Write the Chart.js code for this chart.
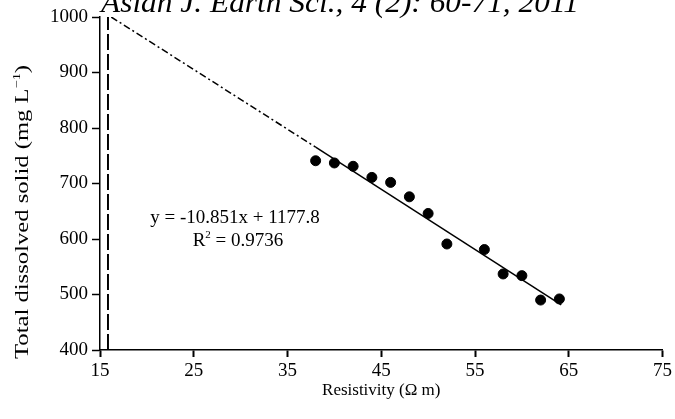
<!DOCTYPE html>
<html>
<head>
<meta charset="utf-8">
<script src="https://cdn.jsdelivr.net/npm/chart.js@4.4.1/dist/chart.umd.min.js"></script>
<style>
  html, body { margin: 0; padding: 0; background: #fff; }
  #wrap { width: 675px; height: 419px; }
</style>
</head>
<body>
<div id="wrap"><canvas id="c"></canvas></div>
<script>
const resistivity = [38, 40, 42, 44, 46, 48, 50, 52, 56, 58, 60, 62, 64];
const tds = [741, 737, 731, 711, 702, 676, 646, 591, 581, 537, 534, 490, 492];
// fitted line y = -10.851x + 1177.8, solid over the data, dash-dot backwards
const fitX = [38, 64.2];
const fitY = [765.5, 481.2];
const forecastX = [16.2, 38];
const forecastY = [1000, 765.5];
const markerX = [15.85, 15.85];
const markerY = [400, 1000];
const xTicks = [15, 25, 35, 45, 55, 65, 75];
const yTicks = [400, 500, 600, 700, 800, 900, 1000];

const SERIF = '"Liberation Serif", "Times New Roman", serif';
const pts = (xs, ys) => xs.map((x, i) => ({ x, y: ys[i] }));

// draws a run of [text, size, raise] pieces, stretched along the run to a given length
function drawRun(ctx, pieces, cx, cy, length, style) {
  const f = (size) => (style ? style + " " : "") + size + "px " + SERIF;
  let w = 0;
  pieces.forEach(([t, size]) => { ctx.font = f(size); w += ctx.measureText(t).width; });
  const k = length ? length / w : 1;
  ctx.save();
  ctx.translate(cx, cy);
  ctx.scale(k, 1);
  let x = -w / 2;
  ctx.textAlign = "left";
  pieces.forEach(([t, size, raise]) => {
    ctx.font = f(size);
    ctx.fillText(t, x, -(raise || 0));
    x += ctx.measureText(t).width;
  });
  ctx.restore();
}

const texts = {
  id: "texts",
  afterDraw(chart) {
    const ctx = chart.ctx, sx = chart.scales.x, sy = chart.scales.y;
    ctx.save();
    ctx.fillStyle = "#000";
    ctx.textBaseline = "alphabetic";

    // journal header, cut off by the top edge
    drawRun(ctx, [["Asian J. Earth Sci., 4 (2): 60-71, 2011", 30]], 101 + 239, 12, 478, "italic");

    // equation and R²
    const ex = sx.getPixelForValue(29.4);
    drawRun(ctx, [["y = -10.851x + 1177.8", 19]], ex, sy.getPixelForValue(628));
    drawRun(ctx, [["R", 19], ["2", 11, 8], [" = 0.9736", 19]], ex + 3, sy.getPixelForValue(588));

    // y axis title with superscript, rotated
    ctx.translate(28, 212);
    ctx.rotate(-Math.PI / 2);
    drawRun(ctx, [["Total dissolved solid (mg L", 19], ["\u22121", 11, 8], [")", 19]], 0, 0, 294);
    ctx.restore();
  }
};

new Chart(document.getElementById("c"), {
  type: "scatter",
  data: {
    datasets: [
      { data: pts(resistivity, tds), backgroundColor: "#000", borderColor: "#000",
        pointRadius: 5, pointHoverRadius: 5, order: 0 },
      { data: pts(fitX, fitY), showLine: true, borderColor: "#000", borderWidth: 1.5,
        pointRadius: 0, order: 1 },
      { data: pts(forecastX, forecastY), showLine: true, borderColor: "#000", borderWidth: 1.5,
        borderDash: [7, 3, 2, 3], pointRadius: 0, order: 1 },
      { data: pts(markerX, markerY), showLine: true, borderColor: "#000", borderWidth: 2,
        borderDash: [16, 4], pointRadius: 0, order: 1 },
    ],
  },
  options: {
    responsive: true, maintainAspectRatio: false, animation: false,
    layout: { padding: { top: 17, right: 9, left: 0, bottom: 0 } },
    plugins: { legend: { display: false }, tooltip: { enabled: false } },
    scales: {
      x: {
        type: "linear", min: xTicks[0], max: xTicks[xTicks.length - 1],
        afterBuildTicks: (s) => { s.ticks = xTicks.map((v) => ({ value: v })); },
        afterFit: (s) => { s.height = 69; },
        border: { color: "#000", width: 1.5 },
        grid: { drawOnChartArea: false, tickLength: 7, tickColor: "#000", tickWidth: 2 },
        ticks: { color: "#000", font: { family: SERIF, size: 19 }, padding: 3, maxRotation: 0,
          callback: (v) => String(v) },
        title: { display: true, text: "Resistivity (\u03a9 m)", color: "#000",
          font: { family: SERIF, size: 17 }, padding: { top: 0, bottom: 18 } },
      },
      y: {
        type: "linear", min: yTicks[0], max: yTicks[yTicks.length - 1],
        afterBuildTicks: (s) => { s.ticks = yTicks.map((v) => ({ value: v })); },
        afterFit: (s) => { s.width = 100; },
        border: { color: "#000", width: 1.5 },
        grid: { drawOnChartArea: false, tickLength: 8, tickColor: "#000", tickWidth: 1.5 },
        ticks: { color: "#000", font: { family: SERIF, size: 19 }, padding: 4,
          callback: (v) => String(v) },
      },
    },
  },
  plugins: [texts],
});
</script>
</body>
</html>
